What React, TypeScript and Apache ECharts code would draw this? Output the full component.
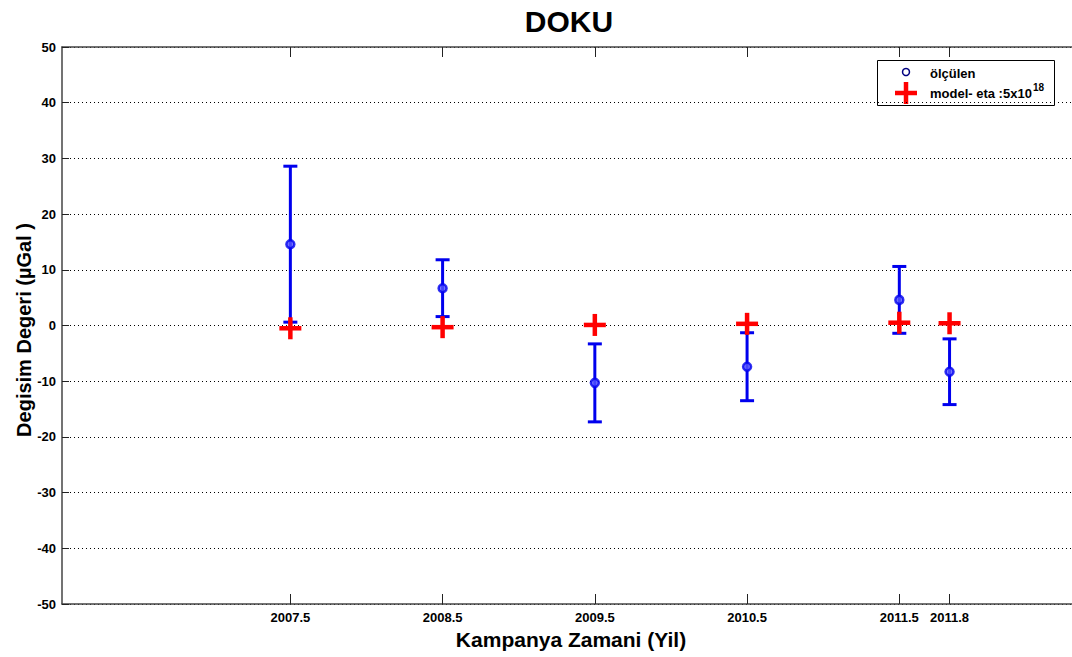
import React, { useEffect, useRef } from "react";
import * as echarts from "echarts";

// Campaign epochs (decimal years) and their tick labels
const years = [2007.5, 2008.5, 2009.5, 2010.5, 2011.5, 2011.83];
const tickLabels = ["2007.5", "2008.5", "2009.5", "2010.5", "2011.5", "2011.8"];
// Measured gravity change (µGal) and its uncertainty
const measured = [14.6, 6.7, -10.3, -7.4, 4.6, -8.3];
const errors = [14.0, 5.1, 7.0, 6.1, 6.0, 5.9];
// Modelled change for eta = 5x10^18
const model = [-0.5, -0.3, 0.1, 0.3, 0.5, 0.4];
// Y axis range and step
const yMin = -50;
const yMax = 50;
const yStep = 10;

const BLUE = "#0000ee";
const RED = "#ff0000";
const FONT = "'Liberation Sans', Arial, sans-serif";

export default function App() {
  const ref = useRef<HTMLDivElement>(null);

  useEffect(() => {
    if (!ref.current) return;
    const chart = echarts.init(ref.current, null, { renderer: "svg" });

    const labelFor = (v: number) => {
      const i = years.findIndex((y) => Math.abs(y - v) < 1e-6);
      return i >= 0 ? tickLabels[i] : "";
    };

    const errData = years.map((x, i) => [x, measured[i] - errors[i], measured[i] + errors[i]]);
    const ptData = years.map((x, i) => [x, measured[i]]);
    const modelData = years.map((x, i) => [x, model[i]]);

    const axisLine = { show: true, onZero: false, lineStyle: { color: "#444", width: 1.5 } };

    const option: any = {
      animation: false,
      backgroundColor: "#ffffff",
      grid: { left: 62, top: 47, width: 1020, height: 557 },
      xAxis: [
        {
          type: "value",
          position: "bottom",
          min: 2006,
          max: 2012.7,
          axisLine,
          axisTick: {
            show: true,
            inside: true,
            length: 10,
            customValues: years,
            lineStyle: { color: "#222", width: 1 },
          },
          axisLabel: {
            customValues: years,
            formatter: (v: number) => labelFor(v),
            fontFamily: FONT,
            fontWeight: "bold",
            fontSize: 13,
            color: "#000",
            margin: 7,
          },
          splitLine: { show: false },
        },
        {
          type: "value",
          position: "top",
          min: 2006,
          max: 2012.7,
          axisLine,
          axisTick: {
            show: true,
            inside: true,
            length: 10,
            customValues: years,
            lineStyle: { color: "#222", width: 1 },
          },
          axisLabel: { show: false },
          splitLine: { show: false },
        },
      ],
      yAxis: {
        type: "value",
        min: yMin,
        max: yMax,
        interval: yStep,
        axisLine,
        axisTick: { show: true, inside: true, length: 7, lineStyle: { color: "#222" } },
        axisLabel: {
          fontFamily: FONT,
          fontWeight: "bold",
          fontSize: 13,
          color: "#000",
          margin: 6,
        },
        splitLine: {
          show: true,
          lineStyle: { color: "#000", width: 1, type: [1, 3] },
        },
      },
      series: [
        {
          type: "custom",
          name: "errorbars",
          data: errData,
          encode: { x: 0, y: [1, 2] },
          renderItem: (params: any, api: any) => {
            const x = api.value(0);
            const lo = api.coord([x, api.value(1)]);
            const hi = api.coord([x, api.value(2)]);
            const cap = 7;
            const style = { stroke: BLUE, lineWidth: 3 };
            return {
              type: "group",
              children: [
                { type: "line", shape: { x1: lo[0], y1: lo[1], x2: hi[0], y2: hi[1] }, style },
                { type: "line", shape: { x1: hi[0] - cap, y1: hi[1], x2: hi[0] + cap, y2: hi[1] }, style },
                { type: "line", shape: { x1: lo[0] - cap, y1: lo[1], x2: lo[0] + cap, y2: lo[1] }, style },
              ],
            };
          },
          z: 2,
        },
        {
          type: "scatter",
          name: "ölçülen",
          data: ptData,
          symbol: "circle",
          symbolSize: 8,
          itemStyle: { color: "#5555ff", borderColor: BLUE, borderWidth: 2.5 },
          z: 3,
        },
        {
          type: "custom",
          name: "model",
          data: modelData,
          renderItem: (params: any, api: any) => {
            const c = api.coord([api.value(0), api.value(1)]);
            const h = 11;
            const style = { stroke: RED, lineWidth: 4.5 };
            return {
              type: "group",
              children: [
                { type: "line", shape: { x1: c[0] - h, y1: c[1], x2: c[0] + h, y2: c[1] }, style },
                { type: "line", shape: { x1: c[0], y1: c[1] - h, x2: c[0], y2: c[1] + h }, style },
              ],
            };
          },
          z: 4,
        },
      ],
      graphic: [
        {
          type: "text",
          x: 569,
          y: 21,
          style: {
            text: "DOKU",
            fontFamily: FONT,
            fontSize: 30,
            fontWeight: "bold",
            fill: "#000",
            align: "center",
            verticalAlign: "middle",
          },
        },
        {
          type: "text",
          x: 571,
          y: 639,
          style: {
            text: "Kampanya Zamani (Yil)",
            fontFamily: FONT,
            fontSize: 21,
            fontWeight: "bold",
            fill: "#000",
            align: "center",
            verticalAlign: "middle",
          },
        },
        {
          type: "text",
          x: 24,
          y: 330,
          rotation: Math.PI / 2,
          style: {
            text: "Degisim Degeri (\u00b5Gal )",
            fontFamily: FONT,
            fontSize: 20,
            fontWeight: "bold",
            fill: "#000",
            align: "center",
            verticalAlign: "middle",
          },
        },
        {
          type: "group",
          z: 100,
          children: [
            {
              type: "rect",
              shape: { x: 877.5, y: 60.5, width: 177, height: 45 },
              style: { fill: "#fff", stroke: "#000", lineWidth: 1 },
            },
            {
              type: "circle",
              shape: { cx: 906, cy: 72, r: 3.5 },
              style: { fill: "#fff", stroke: "#000080", lineWidth: 1.5 },
            },
            {
              type: "text",
              x: 930,
              y: 73,
              style: {
                text: "ölçülen",
                fontFamily: FONT,
                fontSize: 13,
                fontWeight: "bold",
                fill: "#000",
                verticalAlign: "middle",
              },
            },
            {
              type: "line",
              shape: { x1: 895, y1: 93, x2: 917, y2: 93 },
              style: { stroke: RED, lineWidth: 4.5 },
            },
            {
              type: "line",
              shape: { x1: 906, y1: 82, x2: 906, y2: 104 },
              style: { stroke: RED, lineWidth: 4.5 },
            },
            {
              type: "text",
              x: 930,
              y: 93,
              style: {
                text: "model- eta :5x10",
                fontFamily: FONT,
                fontSize: 13,
                fontWeight: "bold",
                fill: "#000",
                verticalAlign: "middle",
              },
            },
            {
              type: "text",
              x: 1033,
              y: 87,
              style: {
                text: "18",
                fontFamily: FONT,
                fontSize: 10,
                fontWeight: "bold",
                fill: "#000",
                verticalAlign: "middle",
              },
            },
          ],
        },
      ],
    };

    chart.setOption(option);
    return () => chart.dispose();
  }, []);

  return (
    <div
      style={{
        position: "fixed",
        left: 0,
        top: 0,
        width: 1072,
        height: 657,
        overflow: "hidden",
        background: "#fff",
      }}
    >
      <div ref={ref} style={{ width: 1100, height: 657 }} />
    </div>
  );
}
